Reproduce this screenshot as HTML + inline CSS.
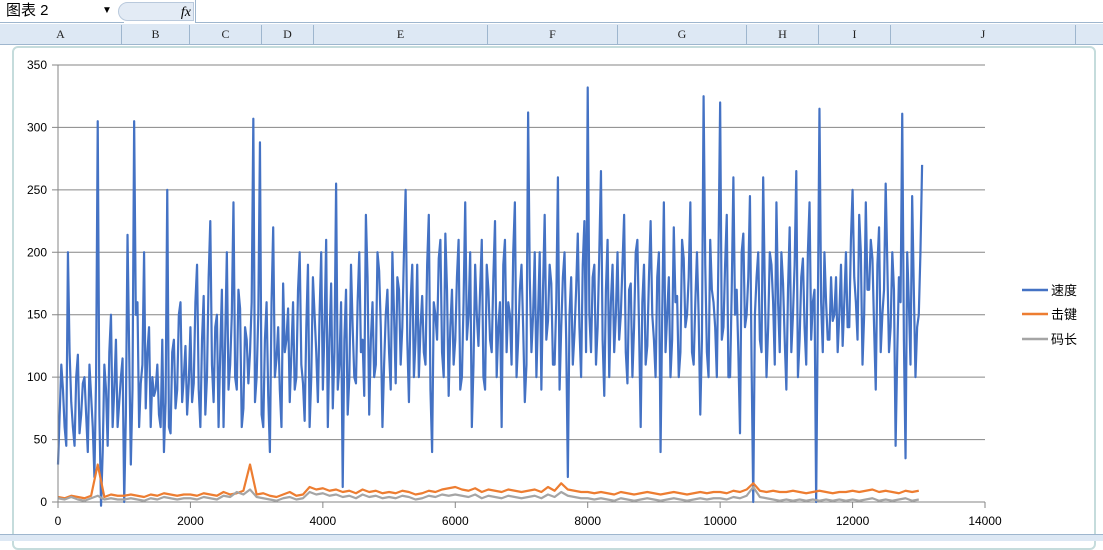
<!DOCTYPE html>
<html><head><meta charset="utf-8"><style>
body{margin:0;width:1103px;height:540px;overflow:hidden;background:#fff;font-family:"Liberation Sans","Noto Sans CJK SC",sans-serif;position:relative}
.abs{position:absolute}
.col{position:absolute;top:25px;height:19px;font-size:12px;font-family:"Liberation Serif",serif;text-align:center;line-height:19px;border-right:1px solid #9eb6ce;color:#222}
</style></head><body>
<div class="abs" style="left:0;top:0;width:118px;height:22px;border-bottom:1px solid #9eb6ce;font-size:15px;line-height:22px;padding-left:6px;font-family:'Liberation Sans','Noto Sans CJK SC',sans-serif">图表 2<span style="position:absolute;left:102px;font-size:10px">▼</span></div>
<div class="abs" style="left:118px;top:2px;width:76px;height:19px;background:#e3ebf5;border:1px solid #b9c9dc;border-radius:10px 0 0 10px;font-size:14px;font-style:italic;font-family:'Liberation Serif',serif;text-align:right;line-height:19px;padding-right:2px;box-sizing:border-box">fx</div>
<div class="abs" style="left:195px;top:0;width:908px;height:22px;border-bottom:1px solid #9eb6ce;border-left:1px solid #9eb6ce"></div>
<div class="abs" style="left:0;top:24px;width:1103px;height:20px;background:#dde8f4;border-bottom:1px solid #9eb6ce"></div>
<div class="col" style="left:0;width:121px">A</div>
<div class="col" style="left:122px;width:67px">B</div>
<div class="col" style="left:190px;width:71px">C</div>
<div class="col" style="left:262px;width:51px">D</div>
<div class="col" style="left:314px;width:173px">E</div>
<div class="col" style="left:488px;width:129px">F</div>
<div class="col" style="left:618px;width:128px">G</div>
<div class="col" style="left:747px;width:71px">H</div>
<div class="col" style="left:819px;width:71px">I</div>
<div class="col" style="left:891px;width:184px">J</div>
<div class="abs" style="left:12px;top:46px;width:1080px;height:500px;border:2px solid #c5dcdc;border-radius:6px;background:#fff"></div>
<div class="abs" style="left:0;top:534px;width:1103px;height:6px;background:#dde8f4;border-top:1px solid #9eb6ce"></div>
<svg class="abs" style="left:0;top:0" width="1103" height="540">
<g id="grid"></g><g id="series"></g><g id="axes"></g>
<g font-size="13" font-family="Liberation Sans,Noto Sans CJK SC,sans-serif">
<line x1="1022" y1="290" x2="1048" y2="290" stroke="#4472c4" stroke-width="2.5"/><text x="1051" y="295">速度</text>
<line x1="1022" y1="314" x2="1048" y2="314" stroke="#ed7d31" stroke-width="2.5"/><text x="1051" y="319">击键</text>
<line x1="1022" y1="339" x2="1048" y2="339" stroke="#a5a5a5" stroke-width="2.5"/><text x="1051" y="344">码长</text>
</g>
</svg>
<script>
const yTicks=[0,50,100,150,200,250,300,350];
const xTicks=[0,2000,4000,6000,8000,10000,12000,14000];
const speedStep=50;
const speed=[30,110,60,200,80,45,118,70,100,40,
85,20,305,-3,110,45,150,90,60,100,
0,214,30,305,160,95,200,120,60,85,
110,60,40,250,55,130,90,160,100,70,
140,95,190,60,165,100,225,80,150,120,
60,200,110,240,90,155,75,130,120,307,
100,288,60,160,40,220,115,90,175,130,
80,160,100,200,95,140,60,180,120,150,
90,210,130,75,255,110,12,170,100,140,
95,200,130,230,70,160,110,185,60,150,
120,200,95,170,140,250,80,190,130,100,
165,110,230,40,150,195,120,215,85,170,
130,210,100,240,150,60,190,125,210,90,
170,120,225,140,60,210,160,110,240,130,
190,80,312,120,200,150,90,230,145,175,
110,260,140,200,20,180,135,215,100,225,
332,120,190,140,265,85,210,160,120,200,
150,230,95,175,140,210,60,190,125,225,
130,180,40,240,150,100,220,165,120,195,
150,240,110,200,70,325,120,210,160,100,
320,140,230,100,260,170,55,215,150,245,
0,180,130,260,100,200,160,240,120,175,
90,220,150,265,130,195,110,240,160,0,
315,120,160,130,145,180,150,125,200,140,
250,160,230,110,240,170,195,90,220,150,
255,120,200,45,180,311,35,160,245,100,
150,270];
// intermediate samples (offset by half a step)
const speedMid=[70,90,45,120,60,100,55,95,70,110,
60,100,70,40,90,120,60,130,80,115,
70,120,90,150,60,110,75,140,100,90,
70,130,80,60,120,75,150,80,125,95,
80,160,90,130,70,180,110,140,60,170,
130,90,150,100,170,60,140,95,160,80,
150,70,130,85,160,100,140,60,120,155,
120,90,170,110,65,190,100,150,80,200,
140,60,175,120,90,160,130,70,190,100,
160,120,85,180,130,100,200,140,110,170,
90,150,180,110,200,130,160,100,190,140,
120,190,90,160,130,210,100,170,140,110,
180,90,160,130,200,110,150,170,100,190,
130,180,100,160,190,120,150,200,100,170,
140,110,180,150,100,200,170,130,190,110,
160,90,180,130,150,110,170,140,190,120,
150,180,110,200,130,170,100,190,150,130,
190,120,170,100,200,140,160,110,180,150,
100,200,150,120,180,130,160,100,210,140,
180,120,160,150,130,190,100,170,140,200,
130,190,100,170,150,120,200,140,180,110,
150,200,120,170,140,190,110,160,200,130,
170,120,190,100,180,140,200,130,170,150,
160,200,130,180,150,120,190,160,140,210,
180,130,200,150,170,210,140,190,120,170,
190,140,170,120,160,130,200,110,170,140,
200];
const otherStep=100;
const keys=[4,3,5,4,3,5,30,4,6,5,5,6,5,4,6,5,7,6,5,6,6,5,7,6,5,8,6,7,9,30,6,7,5,4,6,8,5,6,12,10,11,9,10,8,9,7,10,8,9,7,8,7,9,8,6,7,9,8,10,11,12,10,9,11,8,10,9,8,10,9,8,9,10,8,12,9,15,10,9,8,8,7,8,7,6,8,7,6,7,8,7,6,7,8,7,6,7,8,7,8,8,7,9,8,10,15,9,8,9,8,8,9,8,7,8,9,8,7,8,8,9,8,9,10,8,9,8,7,9,8,9];
const codeLen=[3,2,4,2,1,3,5,2,3,2,2,3,2,1,3,2,4,3,2,3,3,2,4,3,2,5,4,8,6,10,4,3,2,1,3,4,2,3,8,6,7,5,6,4,5,3,6,4,5,3,4,3,5,4,2,3,5,4,6,5,6,5,4,6,3,5,4,3,5,4,3,4,5,3,6,4,8,5,4,3,3,2,3,2,1,3,2,1,2,3,2,1,2,3,2,1,2,3,2,3,3,2,4,3,5,12,4,3,2,1,2,1,2,1,2,1,2,1,2,1,2,1,2,3,1,2,1,2,3,1,2];
const X=v=>58+v/14000*927, Y=v=>502-v/350*437;
const NS='http://www.w3.org/2000/svg';
const grid=document.getElementById('grid'),axes=document.getElementById('axes'),ser=document.getElementById('series');
function mk(t,a,p){const e=document.createElementNS(NS,t);for(const k in a)e.setAttribute(k,a[k]);p.appendChild(e);return e;}
yTicks.forEach(v=>{
 const l=mk('line',{x1:52,x2:985,y1:Y(v),y2:Y(v),stroke:'#868686','stroke-width':1},grid);
 
 
 const t=mk('text',{x:47,y:Y(v)+4,'text-anchor':'end','font-size':12,fill:'#000','font-family':'Liberation Sans,sans-serif'},axes);
 t.textContent=v;
 
 
});
mk('line',{x1:58,x2:58,y1:Y(350),y2:Y(0)+6,stroke:'#868686'},axes);
xTicks.forEach(v=>{
 mk('line',{x1:X(v),x2:X(v),y1:502,y2:508,stroke:'#868686'},axes);
 const t=mk('text',{x:X(v),y:525,'text-anchor':'middle','font-size':12,fill:'#000','font-family':'Liberation Sans,sans-serif'},axes);
 t.textContent=v;
 
 
});
function line(pts,color,name){
 const p=mk('polyline',{points:pts.map(q=>X(q[0])+','+Y(q[1])).join(' '),fill:'none',stroke:color,'stroke-width':2.2,'stroke-linejoin':'round'},ser);
 
 
}
const speedPts=[];
speed.forEach((v,i)=>{speedPts.push([i*speedStep,v]);if(i<speedMid.length)speedPts.push([i*speedStep+speedStep/2,speedMid[i]]);});
line(speedPts,'#4472c4','speed-series');
line(keys.map((v,i)=>[i*otherStep,v]),'#ed7d31','keystroke-series');
line(codeLen.map((v,i)=>[i*otherStep,v]),'#a5a5a5','code-length-series');
</script>
</body></html>
